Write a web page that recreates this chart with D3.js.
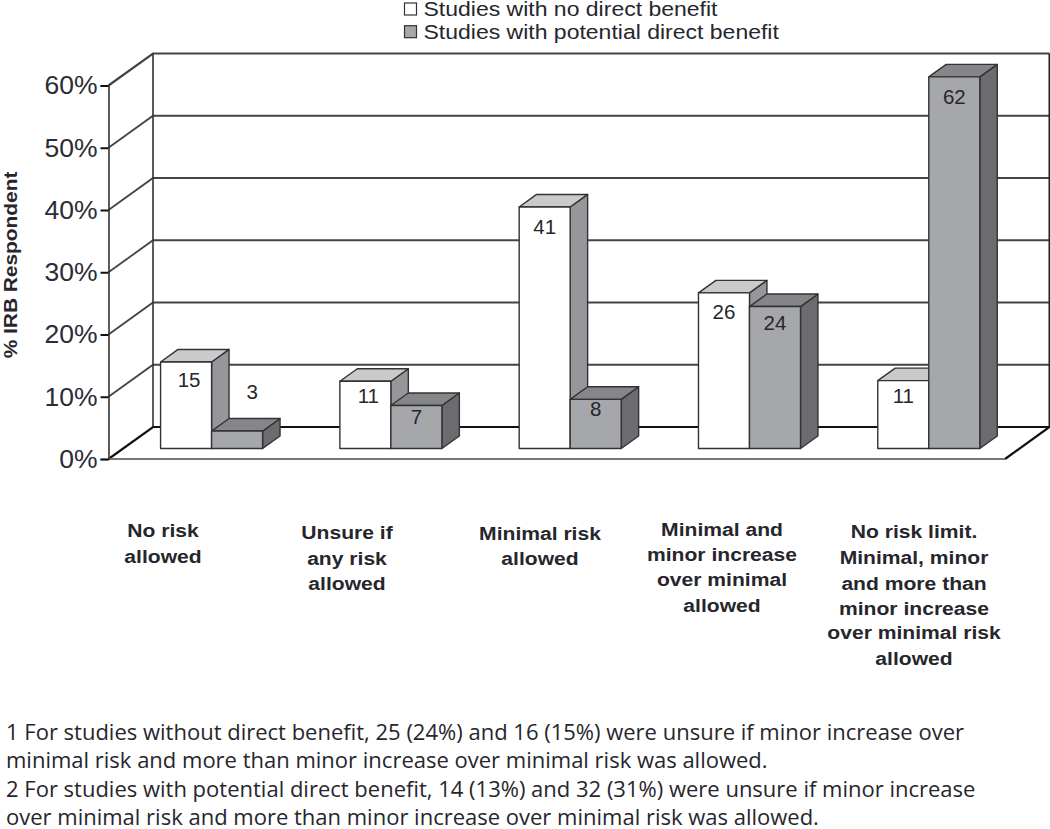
<!DOCTYPE html>
<html>
<head>
<meta charset="utf-8">
<script src="https://cdn.jsdelivr.net/npm/d3@7"></script>
<style>
body { margin: 0; background: #fff; }
svg { display: block; }
text { font-family: "Liberation Sans", Arial, sans-serif; fill: #26262c; }
</style>
</head>
<body>
<div id="chart"></div>
<script>
var categories = [
    ["No risk", "allowed"],
    ["Unsure if", "any risk", "allowed"],
    ["Minimal risk", "allowed"],
    ["Minimal and", "minor increase", "over minimal", "allowed"],
    ["No risk limit.", "Minimal, minor", "and more than", "minor increase", "over minimal risk", "allowed"]
];
var seriesNames = ["Studies with no direct benefit", "Studies with potential direct benefit"];
// bar heights as drawn in the picture (they sit a little lower than the printed numbers)
var noBenefit = [13.9, 10.8, 38.8, 25, 10.9];
var potentialBenefit = [2.8, 6.9, 7.9, 22.8, 59.7];
var noBenefitLabels = [15, 11, 41, 26, 11];
var potentialBenefitLabels = [3, 7, 8, 24, 62];
var yTicks = [0, 10, 20, 30, 40, 50, 60];
var footnotes = [
    "1 For studies without direct benefit, 25 (24%) and 16 (15%) were unsure if minor increase over",
    "minimal risk and more than minor increase over minimal risk was allowed.",
    "2 For studies with potential direct benefit, 14 (13%) and 32 (31%) were unsure if minor increase",
    "over minimal risk and more than minor increase over minimal risk was allowed."
];

// layout tweaks for the text
var catLabelX = [163, 347, 540, 722, 914];
var catLabelY = [
    [537, 563],
    [539, 565, 590],
    [540, 565],
    [536, 561, 586, 612],
    [538, 564, 590, 615, 639, 665]
];
var labelNudge = [
    [{x: 3, y: 25}, {x: 15, y: -32}],
    [{x: 3, y: 22}, {x: 0, y: 18}],
    [{x: 0, y: 27}, {x: 0, y: 17}],
    [{x: 0, y: 26}, {x: 0, y: 23}],
    [{x: 0, y: 22}, {x: 0, y: 27}]
];

var width = 1050, height = 829;
var wallDx = 44.5, wallDy = 32;     // shift from the front plane to the back wall
var barNear = 0.328, barFar = 0.72; // bar depth as a fraction of the floor depth
var x0 = 108.5, x1 = 1005;
var stretch = 1.14; // the source's sans text is a bit wider than Liberation

var svg = d3.select("#chart").append("svg")
    .attr("width", width)
    .attr("height", height);

var y = d3.scaleLinear().domain([0, 60]).range([459, 85.5]);
var x = d3.scaleBand().domain(d3.range(categories.length))
    .range([x0, x1]).paddingInner(0.431).paddingOuter(0.2155).align(0.485);
var xInner = d3.scaleBand().domain([0, 1]).range([0, x.bandwidth()]);

// walls and gridlines
var grid = svg.append("g").attr("fill", "none");
yTicks.slice(1).forEach(function(t) {
    grid.append("path")
        .attr("d", d3.line()([[x0, y(t)], [x0 + wallDx, y(t) - wallDy], [x1 + wallDx, y(t) - wallDy]]))
        .attr("stroke", "#444")
        .attr("stroke-width", t === 60 ? 2.2 : 1.8);
});
grid.append("line").attr("x1", x0 + wallDx).attr("x2", x0 + wallDx)
    .attr("y1", y(0) - wallDy).attr("y2", y(60) - wallDy)
    .attr("stroke", "#333").attr("stroke-width", 1.6);
grid.append("line").attr("x1", x1 + wallDx).attr("x2", x1 + wallDx)
    .attr("y1", y(0) - wallDy).attr("y2", y(60) - wallDy)
    .attr("stroke", "#222").attr("stroke-width", 2);
// floor
grid.append("path")
    .attr("d", d3.line()([[x0, y(0)], [x0 + wallDx, y(0) - wallDy], [x1 + wallDx, y(0) - wallDy], [x1, y(0)]]))
    .attr("stroke", "#111").attr("stroke-width", 2.2);
grid.append("line").attr("x1", x0).attr("x2", x1)
    .attr("y1", y(0)).attr("y2", y(0))
    .attr("stroke", "#777").attr("stroke-width", 2);

// y axis
var axis = svg.append("g")
    .attr("transform", "translate(" + x0 + ",0)")
    .call(d3.axisLeft(y).tickValues(yTicks).tickSize(8).tickPadding(3)
        .tickFormat(function(d) { return d + "%"; }));
axis.select(".domain").attr("stroke", "#333").attr("stroke-width", 1.6);
axis.selectAll(".tick line").attr("stroke", "#111").attr("stroke-width", 2);
axis.selectAll(".tick text").attr("font-size", 26.5)
    .style("font-family", '"Liberation Sans", Arial, sans-serif').style("fill", "#2c2c34");

svg.append("text")
    .attr("transform", "translate(17,265) rotate(-90) scale(1.16,1)")
    .attr("text-anchor", "middle")
    .attr("font-size", 18)
    .attr("font-weight", "bold")
    .text("% IRB Respondent");

// bars
var styles = [
    {front: "#ffffff", top: "#c9cacc", side: "#96979a"},
    {front: "#a6a7aa", top: "#858689", side: "#6b6c6f"}
];
var barWidth = xInner.bandwidth();
var barsData = [];
categories.forEach(function(c, i) {
    [noBenefit[i], potentialBenefit[i]].forEach(function(v, s) {
        barsData.push({cat: i, s: s, v: v});
    });
});
var bars = svg.append("g").selectAll("g").data(barsData).enter().append("g")
    .attr("stroke", "#333").attr("stroke-width", 1.4).attr("stroke-linejoin", "round");
function pt(px, v, f) { return [px + f * wallDx, y(v) - f * wallDy]; }
var poly = d3.line().curve(d3.curveLinearClosed);
bars.append("path").attr("fill", function(d) { return styles[d.s].side; })
    .attr("d", function(d) {
        var r = x(d.cat) + xInner(d.s) + barWidth;
        return poly([pt(r, 0, barNear), pt(r, 0, barFar), pt(r, d.v, barFar), pt(r, d.v, barNear)]);
    });
bars.append("path").attr("fill", function(d) { return styles[d.s].top; })
    .attr("d", function(d) {
        var l = x(d.cat) + xInner(d.s);
        return poly([pt(l, d.v, barNear), pt(l, d.v, barFar), pt(l + barWidth, d.v, barFar), pt(l + barWidth, d.v, barNear)]);
    });
bars.append("path").attr("fill", function(d) { return styles[d.s].front; })
    .attr("d", function(d) {
        var l = x(d.cat) + xInner(d.s);
        return poly([pt(l, 0, barNear), pt(l, d.v, barNear), pt(l + barWidth, d.v, barNear), pt(l + barWidth, 0, barNear)]);
    });

// value labels
svg.append("g").selectAll("text").data(barsData).enter().append("text")
    .attr("text-anchor", "middle")
    .attr("font-size", 20.5)
    .attr("x", function(d) {
        return pt(x(d.cat) + xInner(d.s) + barWidth / 2, d.v, barNear)[0] + labelNudge[d.cat][d.s].x;
    })
    .attr("y", function(d) {
        return pt(0, d.v, barNear)[1] + labelNudge[d.cat][d.s].y;
    })
    .text(function(d) {
        return d.s === 0 ? noBenefitLabels[d.cat] : potentialBenefitLabels[d.cat];
    });

// category labels
var catGroup = svg.append("g")
    .attr("text-anchor", "middle")
    .attr("font-size", 18.5)
    .attr("font-weight", "bold");
categories.forEach(function(lines, i) {
    lines.forEach(function(line, j) {
        catGroup.append("text")
            .attr("transform", "translate(" + catLabelX[i] + "," + catLabelY[i][j] + ") scale(" + stretch + ",1)")
            .text(line);
    });
});

// legend
var legend = svg.append("g");
seriesNames.forEach(function(name, i) {
    legend.append("rect")
        .attr("x", 404.5).attr("y", 3 + i * 22.7)
        .attr("width", 12).attr("height", 12)
        .attr("fill", styles[i].front)
        .attr("stroke", "#333").attr("stroke-width", 1.2);
    legend.append("text")
        .attr("transform", "translate(423.5," + (16 + i * 22.7) + ") scale(1.18,1)")
        .attr("font-size", 19.5)
        .text(name);
});

// footnotes
svg.append("g").selectAll("text").data(footnotes).enter().append("text")
    .attr("x", 6)
    .attr("y", function(d, i) { return 740 + i * 28.4; })
    .attr("font-size", 22)
    .style("font-family", '"Open Sans", sans-serif')
    .text(function(d) { return d; });
</script>
</body>
</html>
